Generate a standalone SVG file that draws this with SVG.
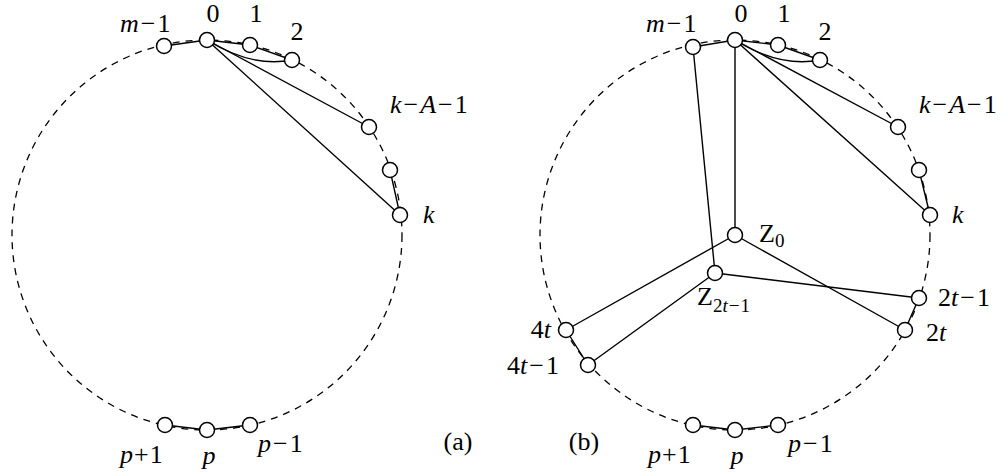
<svg xmlns="http://www.w3.org/2000/svg" width="1003" height="474" viewBox="0 0 1003 474">
<style>
.ring{fill:none;stroke:#000;stroke-width:1.3;stroke-dasharray:7 6}
.e{fill:none;stroke:#000;stroke-width:1.4}
.n{fill:#fff;stroke:#000;stroke-width:1.5}
.i{font-style:italic}
.s{font-size:19px}
</style>
<rect width="1003" height="474" fill="#fff"/>
<circle class="ring" cx="207" cy="235" r="195"/>
<circle class="ring" cx="735" cy="235" r="195"/>
<g id="connectors">
<path class="e" d="M164,46 L207,40 L250,45 L292,60"/>
<path class="e" d="M207,40 Q252,68 292,60"/>
<path class="e" d="M207,40 L369,127 M207,40 L400,215 M390,170 L400,215"/>
<path class="e" d="M165,425 L207,430 L250,425"/>
<path class="e" d="M693,47 L735,40 L778,45 L820,60"/>
<path class="e" d="M735,40 Q780,68 820,60"/>
<path class="e" d="M735,40 L898,127 M735,40 L930,215 M919,170 L930,215"/>
<path class="e" d="M693,425 L735,430 L778,425"/>
<path class="e" d="M735,40 L735,235 M693,47 L715,273"/>
<path class="e" d="M735,235 L566,330 M735,235 L905,330"/>
<path class="e" d="M715,273 L919,298 M715,273 L588,365"/>
<path class="e" d="M566,330 L588,365 M919,298 L905,330"/>
</g>
<g font-family="Liberation Serif, Times New Roman, DejaVu Serif, serif" font-size="26" fill="#000">
<g id="a-m1"><circle class="n" cx="164" cy="46" r="7.5"/><text x="120" y="32"><tspan class="i">m</tspan><tspan dx="2">−</tspan><tspan dx="2">1</tspan></text></g>
<g id="a-0"><circle class="n" cx="207" cy="40" r="7.5"/><text x="213" y="22" text-anchor="middle">0</text></g>
<g id="a-1"><circle class="n" cx="250" cy="45" r="7.5"/><text x="256" y="22" text-anchor="middle">1</text></g>
<g id="a-2"><circle class="n" cx="292" cy="60" r="7.5"/><text x="297" y="40" text-anchor="middle">2</text></g>
<g id="a-kA1"><circle class="n" cx="369" cy="127" r="7.5"/><text x="390" y="113"><tspan class="i">k</tspan><tspan dx="2">−</tspan><tspan class="i" dx="2">A</tspan><tspan dx="2">−</tspan><tspan dx="2">1</tspan></text></g>
<g id="a-u"><circle class="n" cx="390" cy="170" r="7.5"/></g>
<g id="a-k"><circle class="n" cx="400" cy="215" r="7.5"/><text x="423" y="223" class="i">k</text></g>
<g id="a-p1"><circle class="n" cx="165" cy="425" r="7.5"/><text x="120" y="463"><tspan class="i">p</tspan><tspan dx="1">+</tspan><tspan dx="1">1</tspan></text></g>
<g id="a-p"><circle class="n" cx="207" cy="430" r="7.5"/><text x="209" y="464" class="i" text-anchor="middle">p</text></g>
<g id="a-pm1"><circle class="n" cx="250" cy="425" r="7.5"/><text x="258" y="452"><tspan class="i">p</tspan><tspan dx="2">−</tspan><tspan dx="2">1</tspan></text></g>
<g id="b-m1"><circle class="n" cx="693" cy="47" r="7.5"/><text x="646" y="32"><tspan class="i">m</tspan><tspan dx="2">−</tspan><tspan dx="2">1</tspan></text></g>
<g id="b-0"><circle class="n" cx="735" cy="40" r="7.5"/><text x="741" y="22" text-anchor="middle">0</text></g>
<g id="b-1"><circle class="n" cx="778" cy="45" r="7.5"/><text x="784" y="22" text-anchor="middle">1</text></g>
<g id="b-2"><circle class="n" cx="820" cy="60" r="7.5"/><text x="825" y="40" text-anchor="middle">2</text></g>
<g id="b-kA1"><circle class="n" cx="898" cy="127" r="7.5"/><text x="919" y="113"><tspan class="i">k</tspan><tspan dx="2">−</tspan><tspan class="i" dx="2">A</tspan><tspan dx="2">−</tspan><tspan dx="2">1</tspan></text></g>
<g id="b-u"><circle class="n" cx="919" cy="170" r="7.5"/></g>
<g id="b-k"><circle class="n" cx="930" cy="215" r="7.5"/><text x="952" y="223" class="i">k</text></g>
<g id="b-2t1"><circle class="n" cx="919" cy="298" r="7.5"/><text x="938" y="306">2<tspan class="i">t</tspan><tspan dx="2">−</tspan><tspan dx="2">1</tspan></text></g>
<g id="b-2t"><circle class="n" cx="905" cy="330" r="7.5"/><text x="926" y="341">2<tspan class="i">t</tspan></text></g>
<g id="b-4t"><circle class="n" cx="566" cy="330" r="7.5"/><text x="551" y="338" text-anchor="end">4<tspan class="i">t</tspan></text></g>
<g id="b-4t1"><circle class="n" cx="588" cy="365" r="7.5"/><text x="559" y="374" text-anchor="end">4<tspan class="i">t</tspan><tspan dx="2">−</tspan><tspan dx="2">1</tspan></text></g>
<g id="b-p1"><circle class="n" cx="693" cy="425" r="7.5"/><text x="648" y="463"><tspan class="i">p</tspan><tspan dx="1">+</tspan><tspan dx="1">1</tspan></text></g>
<g id="b-p"><circle class="n" cx="735" cy="430" r="7.5"/><text x="737" y="464" class="i" text-anchor="middle">p</text></g>
<g id="b-pm1"><circle class="n" cx="778" cy="425" r="7.5"/><text x="788" y="452"><tspan class="i">p</tspan><tspan dx="2">−</tspan><tspan dx="2">1</tspan></text></g>
<g id="b-Z0"><circle class="n" cx="735" cy="235" r="7.5"/><text x="759" y="242">Z<tspan class="s" dy="5">0</tspan></text></g>
<g id="b-Z2t1"><circle class="n" cx="715" cy="273" r="7.5"/><text x="697" y="305">Z<tspan class="s" dy="7">2<tspan class="i">t</tspan><tspan dx="1">−</tspan><tspan dx="1">1</tspan></tspan></text></g>
<g id="lab-a"><text x="458" y="450" text-anchor="middle">(a)</text></g>
<g id="lab-b"><text x="584" y="450" text-anchor="middle">(b)</text></g>
</g>
</svg>
